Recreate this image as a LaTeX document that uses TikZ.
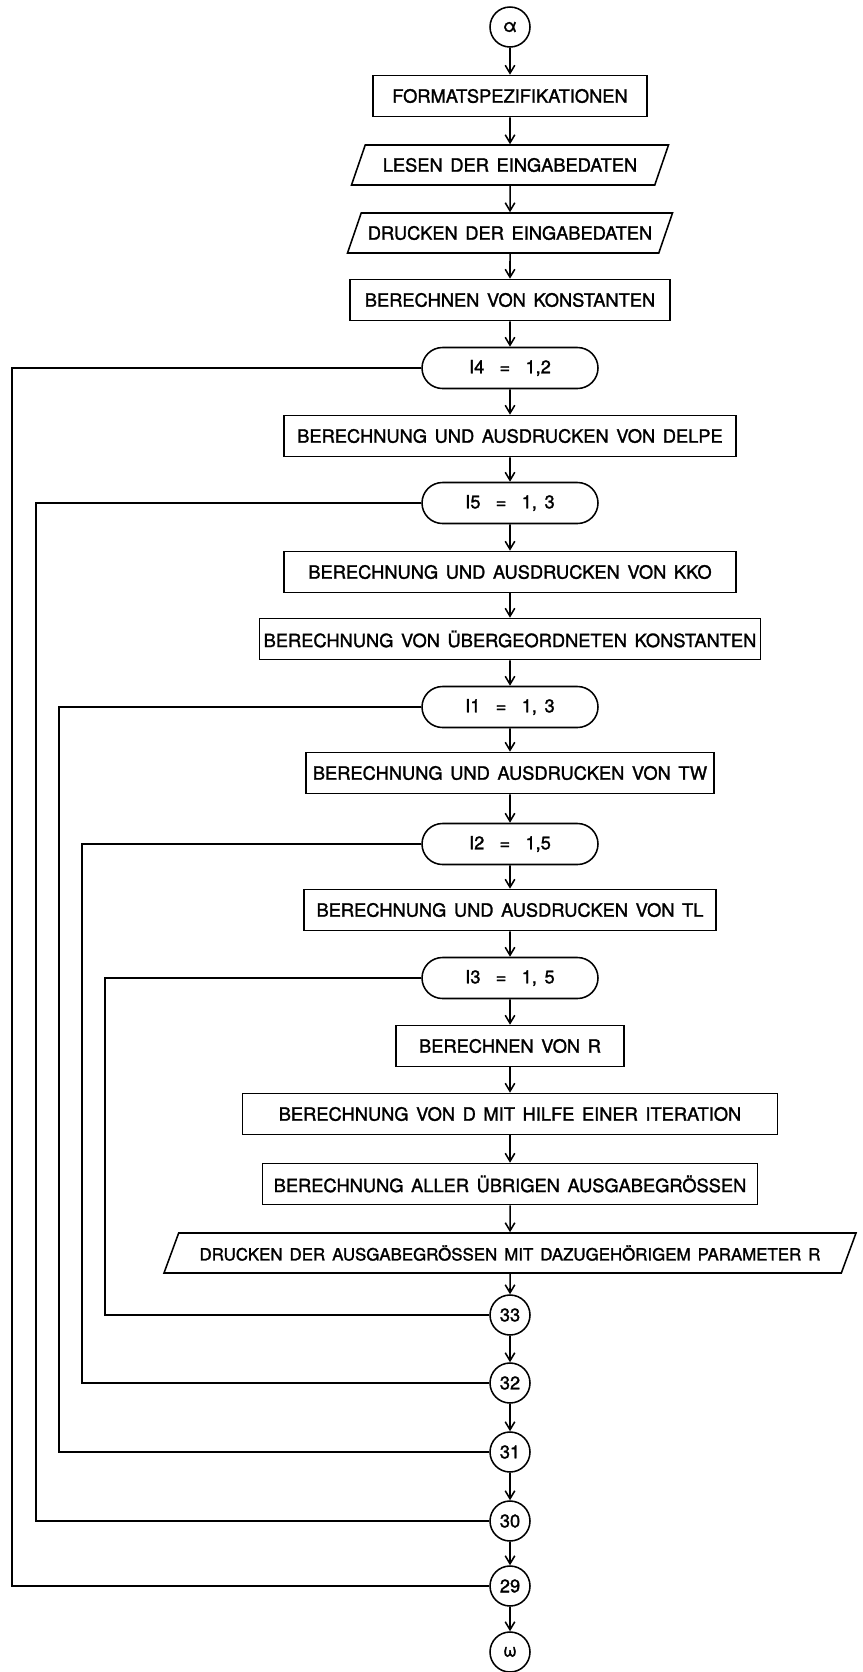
\documentclass[tikz,border=0pt]{standalone}
\usepackage{fontspec}
\setmainfont{TeX Gyre Heros}[WordSpace=1.5, FakeBold=1.5]
\usepackage{tikz}
\usetikzlibrary{arrows.meta,shapes.geometric,shapes.misc}
\tikzset{
  fc/.style={x=0.25mm, y=-0.25mm, >={Straight Barb[length=2mm,width=2.4mm]}, line width=1.1pt,
             every node/.style={draw, font=\fontsize{13pt}{15pt}\selectfont, inner sep=1mm}},
  procbox/.style={rectangle, minimum height=10.25mm},
  inout/.style={trapezium, trapezium left angle=58, trapezium right angle=122, trapezium stretches body,
                minimum height=10mm, inner xsep=0.5mm},
  cnt/.style={rounded rectangle, minimum width=46mm, minimum height=10.25mm},
  conn/.style={circle, minimum size=10mm, inner sep=0pt},
  flow/.style={->},
  back/.style={-}
}

\begin{document}
\begin{tikzpicture}[fc]
\useasboundingbox (0,0) rectangle (863,1672);
% main column
\node[conn] (alpha) at (510,27) {α};
\node[procbox, minimum width=68.5mm] (fmt) at (510,96) {FORMATSPEZIFIKATIONEN};
\node[inout, minimum width=79.25mm] (lesen) at (510,165) {LESEN DER EINGABEDATEN};
\node[inout, minimum width=81.25mm] (druckein) at (510,233) {DRUCKEN DER EINGABEDATEN};
\node[procbox, minimum width=80mm] (konst) at (510,300) {BERECHNEN VON KONSTANTEN};
\node[cnt] (i4) at (510,368) {I4 \ = \ 1,2};
\node[procbox, minimum width=113mm] (delpe) at (510,436) {BERECHNUNG UND AUSDRUCKEN VON DELPE};
\node[cnt] (i5) at (510,503) {I5 \ = \ 1, 3};
\node[procbox, minimum width=113mm] (kko) at (510,572) {BERECHNUNG UND AUSDRUCKEN VON KKO};
\node[procbox, minimum width=124.75mm] (uebk) at (510,639) {BERECHNUNG VON ÜBERGEORDNETEN KONSTANTEN};
\node[cnt] (i1) at (510,707) {I1 \ = \ 1, 3};
\node[procbox, minimum width=102mm] (tw) at (510,773) {BERECHNUNG UND AUSDRUCKEN VON TW};
\node[cnt] (i2) at (510,844) {I2 \ = \ 1,5};
\node[procbox, minimum width=103mm] (tl) at (510,910) {BERECHNUNG UND AUSDRUCKEN VON TL};
\node[cnt] (i3) at (510,978) {I3 \ = \ 1, 5};
\node[procbox, minimum width=57mm] (rr) at (510,1046) {BERECHNEN VON R};
\node[procbox, minimum width=133.75mm] (iter) at (510,1114) {BERECHNUNG VON D MIT HILFE EINER ITERATION};
\node[procbox, minimum width=123.75mm] (uebr) at (510,1184) {BERECHNUNG ALLER ÜBRIGEN AUSGABEGRÖSSEN};
\node[inout, minimum width=173mm, font=\fontsize{12pt}{14pt}\selectfont] (druckaus) at (510,1253)
  {DRUCKEN DER AUSGABEGRÖSSEN MIT DAZUGEHÖRIGEM PARAMETER R};
% loop ends
\node[conn] (c33) at (510,1315) {33};
\node[conn] (c32) at (510,1383) {32};
\node[conn] (c31) at (510,1452) {31};
\node[conn] (c30) at (510,1521) {30};
\node[conn] (c29) at (510,1586) {29};
\node[conn] (omega) at (510,1652) {ω};
% rails on the left
\coordinate (r29) at (12,0); \coordinate (r30) at (36,0); \coordinate (r31) at (59,0);
\coordinate (r32) at (82,0); \coordinate (r33) at (105,0);
\draw[flow] (alpha) -- (fmt); \draw[flow] (fmt) -- (lesen); \draw[flow] (lesen) -- (druckein);
\draw[flow] (druckein) -- (konst); \draw[flow] (konst) -- (i4); \draw[flow] (i4) -- (delpe);
\draw[flow] (delpe) -- (i5); \draw[flow] (i5) -- (kko); \draw[flow] (kko) -- (uebk);
\draw[flow] (uebk) -- (i1); \draw[flow] (i1) -- (tw); \draw[flow] (tw) -- (i2);
\draw[flow] (i2) -- (tl); \draw[flow] (tl) -- (i3); \draw[flow] (i3) -- (rr);
\draw[flow] (rr) -- (iter); \draw[flow] (iter) -- (uebr); \draw[flow] (uebr) -- (druckaus);
\draw[flow] (druckaus) -- (c33); \draw[flow] (c33) -- (c32); \draw[flow] (c32) -- (c31);
\draw[flow] (c31) -- (c30); \draw[flow] (c30) -- (c29); \draw[flow] (c29) -- (omega);
\draw[back] (i4.west) -| (r29 |- c29) -- (c29.west);
\draw[back] (i5.west) -| (r30 |- c30) -- (c30.west);
\draw[back] (i1.west) -| (r31 |- c31) -- (c31.west);
\draw[back] (i2.west) -| (r32 |- c32) -- (c32.west);
\draw[back] (i3.west) -| (r33 |- c33) -- (c33.west);
\end{tikzpicture}
\end{document}
